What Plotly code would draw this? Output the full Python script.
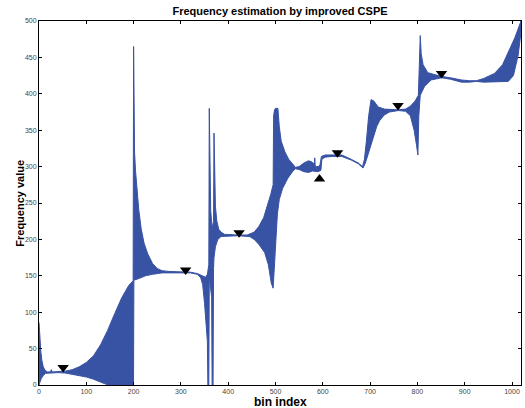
import plotly.graph_objects as go

# Upper envelope of the dense estimate curve (bin index, frequency value)
upper_x = [0, 2, 4, 6, 9, 13, 18, 24, 26, 28, 40, 55, 70, 85, 100, 115, 130, 145, 160, 175, 190, 199,
           200, 200.5, 202, 204, 207, 211, 216, 222, 230, 240, 250, 260, 275, 300, 320, 335, 345, 352, 356, 359,
           360, 361, 363, 366, 369, 370, 371, 373, 376, 380, 385, 392, 420, 440, 455, 465, 475, 480, 490, 495,
           496, 498, 500, 505, 508, 512, 520, 528, 537, 542, 550, 560, 570, 578, 582, 583, 584, 590, 594, 597,
           605, 620, 640, 660, 675, 684, 688, 692, 697, 702, 708, 717, 730, 760, 775, 785, 795, 802, 805, 806,
           808, 812, 822, 836, 850, 870, 893, 910, 925, 940, 963, 980, 992, 1006, 1019]
upper_y = [86, 62, 45, 34, 25, 20, 18, 18, 21, 18, 18, 19, 21, 25, 31, 40, 55, 75, 98, 120, 137, 143,
           465, 360, 320, 295, 270, 240, 215, 195, 180, 167, 160, 157, 156, 155, 155, 153, 150, 148, 152, 165,
           380, 280, 240, 215, 225, 346, 280, 245, 225, 214, 210, 207, 206, 206, 210, 218, 230, 240, 262, 275,
           370, 378, 380, 380, 355, 335, 320, 310, 302, 299, 300, 305, 308, 306, 303, 312, 300, 300, 302, 314,
           316, 316, 316, 310, 305, 300, 310, 334, 370, 392, 390, 382, 379, 378, 379, 383, 390, 398, 480, 480,
           455, 440, 429, 426, 424, 422, 419, 418, 418, 421, 428, 440, 458, 477, 500]

# Lower envelope of the dense estimate curve
lower_x = [0, 2, 5, 9, 14, 22, 40, 55, 70, 85, 100, 115, 128, 138, 146, 199.8,
           200.6, 210, 225, 240, 260, 300, 320, 335, 342, 346, 350, 354, 356, 357, 359,
           360, 365, 366, 368, 369, 370, 373, 378, 385, 392, 420, 445, 455, 465, 477, 485, 491, 495,
           497, 500, 504, 508, 515, 526, 537, 542, 550, 560, 570, 578, 582, 590, 596, 598,
           605, 620, 640, 660, 675, 685, 690, 697, 706, 714, 720, 730, 741, 760, 775, 785, 793, 798, 801,
           803, 806, 815, 829, 851, 870, 893, 910, 925, 940, 963, 992, 1003, 1013, 1019]
lower_y = [0, 4, 9, 13, 16, 17, 17, 16.5, 15, 13, 11, 8, 5, 2, 0, 0,
           144, 146, 150, 152, 154, 154, 154, 152, 147, 138, 112, 80, 60, 0, 0,
           150, 120, 0, 0, 160, 175, 190, 200, 204, 205, 205, 204, 200, 193, 182, 165, 140, 133,
           160, 195, 235, 255, 270, 284, 294, 297, 296, 293, 292, 294, 293, 293, 295, 310,
           313, 314, 314, 309, 304, 298, 305, 322, 338, 355, 363, 371, 375, 377, 376, 370, 350, 330, 316,
           370, 398, 410, 419, 422, 420, 416, 416, 417, 416, 416, 417, 425, 453, 485]

# Detected peaks (triangle markers)
down_x = [51, 310, 423, 631, 759, 851]
down_y = [24, 158, 209, 319, 384, 428]
up_x = [593]
up_y = [283]

blue = "rgb(57,83,164)"

fig = go.Figure()
fig.add_trace(go.Scatter(
    x=upper_x + lower_x[::-1],
    y=upper_y + lower_y[::-1],
    mode="lines", fill="toself", fillcolor=blue,
    line=dict(color=blue, width=1), hoverinfo="skip", showlegend=False))
fig.add_trace(go.Scatter(
    x=down_x, y=down_y, mode="markers",
    marker=dict(symbol="triangle-down", size=10, color="black"), showlegend=False))
fig.add_trace(go.Scatter(
    x=up_x, y=up_y, mode="markers",
    marker=dict(symbol="triangle-up", size=10, color="black"), showlegend=False))

axis_common = dict(showline=True, linecolor="black", linewidth=1, mirror="ticks",
                   ticks="inside", ticklen=3, tickcolor="black", tickwidth=1,
                   showgrid=False, zeroline=False,
                   tickfont=dict(family="Liberation Sans, Arial", size=7, color="#444"))

fig.update_layout(
    width=525, height=408,
    margin=dict(l=39, r=4, t=21, b=23),
    paper_bgcolor="white", plot_bgcolor="white",
    title=dict(text="<b>Frequency estimation by improved CSPE</b>",
               x=(39 + 521) / 2 / 525, xanchor="center",
               y=1 - 11 / 408, yanchor="middle", yref="container",
               font=dict(family="Liberation Sans, Arial", size=11, color="black")),
    xaxis=dict(range=[0, 1019], tickvals=list(range(0, 1001, 100)), **axis_common),
    yaxis=dict(range=[0, 500], tickvals=list(range(0, 501, 50)), **axis_common),
    annotations=[
        dict(text="<b>bin index</b>", xref="paper", yref="paper", x=0.5, y=-0.046,
             xanchor="center", yanchor="middle", showarrow=False,
             font=dict(family="Liberation Sans, Arial", size=12, color="black")),
        dict(text="<b>Frequency value</b>", xref="paper", yref="paper", x=-0.040, y=0.5,
             xanchor="center", yanchor="middle", showarrow=False, textangle=-90,
             font=dict(family="Liberation Sans, Arial", size=11, color="black")),
    ],
)

fig.write_html("out.html")
